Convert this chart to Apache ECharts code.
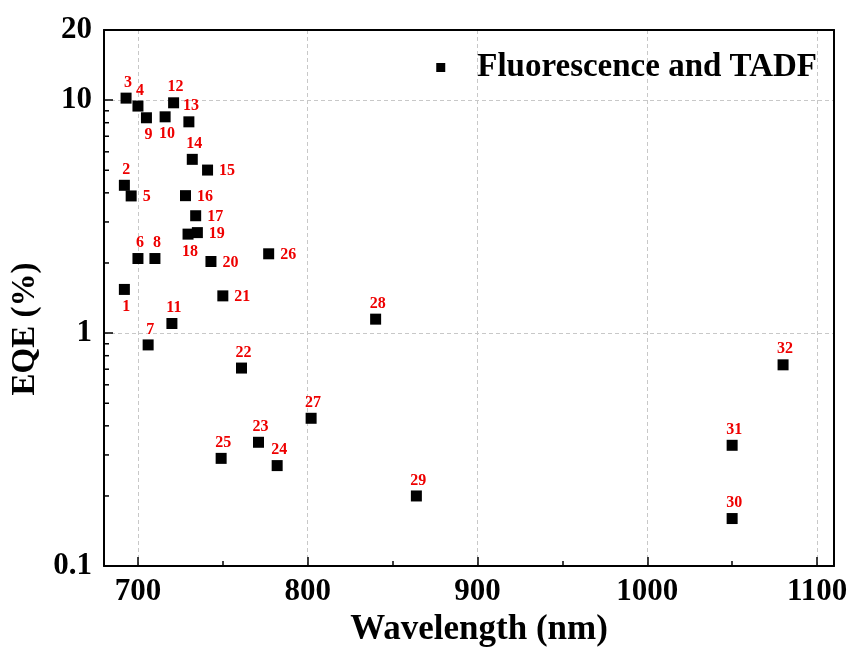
<!DOCTYPE html>
<html>
<head>
<meta charset="utf-8">
<script src="https://cdn.jsdelivr.net/npm/echarts@6/dist/echarts.min.js"></script>
<style>
  html, body { margin: 0; padding: 0; background: #fff; }
  #chart { width: 853px; height: 652px; }
</style>
</head>
<body>
<div id="chart"></div>
<script>
// ---- data ----
const seriesName = 'Fluorescence and TADF';
const ids = [1,2,3,4,5,6,7,8,9,10,11,12,13,14,15,16,17,18,19,20,21,22,23,24,25,26,27,28,29,30,31,32];
const wavelength = [692,692,693,700,696,700,706,710,705,716,720,721,730,732,741,728,734,729.5,735,743,750,761,771,782,749,777,802,840,864,1050,1050,1080];
const eqe = [1.54,4.31,10.2,9.43,3.88,2.09,0.89,2.09,8.40,8.48,1.10,9.74,8.07,5.57,5.01,3.89,3.19,2.66,2.70,2.03,1.445,0.708,0.34,0.27,0.29,2.19,0.431,1.148,0.20,0.16,0.33,0.731];
const xRange = [680, 1110];
const yRange = [0.1, 20];
const yLabelValues = [0.1, 1, 10, 20];
const yMinorTickValues = [0.2,0.3,0.4,0.5,0.6,0.7,0.8,0.9,2,3,4,5,6,7,8,9];

// ---- label placement (style) ----
const labelsBelow = [1, 9, 10, 18];
const labelsRight = [5, 15, 16, 17, 19, 20, 21, 26];

const FONT = "'Liberation Serif', 'Times New Roman', serif";

function labelStyle(id) {
  if (labelsBelow.includes(id)) return { position: 'bottom', distance: 4, offset: [2, 0] };
  if (labelsRight.includes(id)) return { position: 'right', distance: 6, offset: [0, 1] };
  return { position: 'top', distance: 2, offset: [2, 0] };
}

const points = ids.map((id, i) => ({
  name: String(id),
  value: [wavelength[i], eqe[i]],
  label: labelStyle(id)
}));

const chart = echarts.init(document.getElementById('chart'), null, { renderer: 'canvas' });

const gridLine = { show: true, lineStyle: { color: '#c8c8c8', width: 1, type: [4, 3] } };
const frameLine = { show: true, lineStyle: { color: '#000', width: 2 } };
const tickStyle = { color: '#000', width: 1.5 };

chart.setOption({
  animation: false,
  backgroundColor: '#fff',
  grid: { left: 104, right: 19, top: 30, bottom: 85 },
  legend: {
    right: 31, top: 46,
    icon: 'rect', itemWidth: 9, itemHeight: 9,
    itemStyle: { color: '#000', borderWidth: 0, opacity: 1 },
    textStyle: { fontFamily: FONT, fontWeight: 'bold', fontSize: 33, color: '#000', padding: [0, 0, 0, 27] },
    data: [seriesName]
  },
  xAxis: [{
    type: 'value', min: xRange[0], max: xRange[1],
    name: 'Wavelength (nm)', nameLocation: 'middle', nameGap: 45,
    nameTextStyle: { fontFamily: FONT, fontWeight: 'bold', fontSize: 35, color: '#000', padding: [0, 0, 0, 20] },
    axisLine: frameLine,
    axisTick: { show: true, inside: true, length: 9, lineStyle: tickStyle },
    minorTick: { show: true, splitNumber: 2, length: 5, lineStyle: tickStyle },
    axisLabel: { fontFamily: FONT, fontWeight: 'bold', fontSize: 31, color: '#000', margin: 10,
      showMinLabel: false, showMaxLabel: false, formatter: v => String(v) },
    splitLine: gridLine
  }, {
    type: 'value', min: xRange[0], max: xRange[1], position: 'top',
    axisLine: frameLine, axisTick: { show: false }, axisLabel: { show: false }, splitLine: { show: false }
  }],
  yAxis: [{
    type: 'log', logBase: 10, min: yRange[0], max: yRange[1],
    name: 'EQE (%)', nameLocation: 'middle', nameGap: 53,
    nameTextStyle: { fontFamily: FONT, fontWeight: 'bold', fontSize: 33, color: '#000', padding: [0, 62, 0, 0] },
    axisLine: frameLine,
    axisTick: { show: true, inside: true, length: 9, lineStyle: tickStyle },
    axisLabel: { fontFamily: FONT, fontWeight: 'bold', fontSize: 31, color: '#000', margin: 12, customValues: yLabelValues,
      formatter: v => String(v) },
    splitLine: gridLine
  }, {
    type: 'log', logBase: 10, min: yRange[0], max: yRange[1], position: 'right',
    axisLine: frameLine, axisTick: { show: false }, axisLabel: { show: false }, splitLine: { show: false }
  }],
  series: [{
    name: seriesName,
    type: 'scatter',
    xAxisIndex: 0, yAxisIndex: 0,
    symbol: 'rect', symbolSize: 11,
    itemStyle: { color: '#000', opacity: 1 },
    label: {
      show: true, formatter: '{b}',
      fontFamily: FONT, fontWeight: 'bold', fontSize: 16, color: '#ee0000'
    },
    data: points,
    z: 3
  }, {
    // minor ticks of the logarithmic y axis (2..9 in each decade)
    name: 'yMinorTicks',
    type: 'custom',
    xAxisIndex: 0, yAxisIndex: 0,
    silent: true,
    data: yMinorTickValues.map(v => [xRange[0], v]),
    renderItem: (params, api) => {
      const p = api.coord([api.value(0), api.value(1)]);
      return {
        type: 'line',
        shape: { x1: p[0], y1: p[1], x2: p[0] + 5, y2: p[1] },
        style: { stroke: '#000', lineWidth: 1.5 }
      };
    },
    z: 4
  }]
});
</script>
</body>
</html>
